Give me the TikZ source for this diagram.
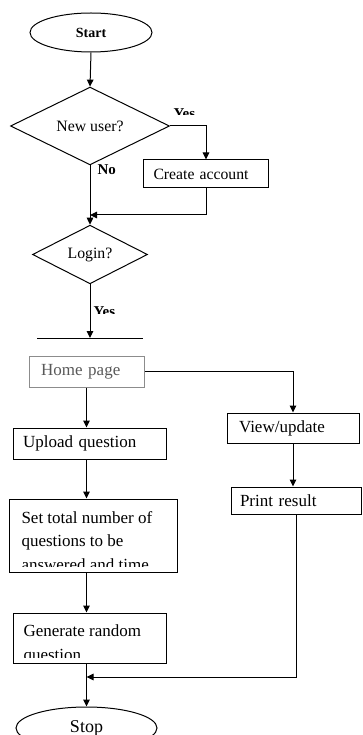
\documentclass[tikz,border=0pt]{standalone}
\usepackage{fontspec}
\setmainfont{Liberation Serif}
\usetikzlibrary{shapes.geometric,arrows.meta}
\definecolor{homeline}{gray}{0.55}
\definecolor{hometext}{gray}{0.35}
\begin{document}
\begin{tikzpicture}[x=1pt,y=-1pt,
  line width=1pt,
  >={Triangle[length=7pt,width=6.5pt]},
  term/.style={draw, ellipse, inner sep=0pt},
  dia/.style={draw, diamond, inner sep=0pt, font=\fontsize{15.8}{18}\selectfont},
  boxs/.style={draw, rectangle, inner ysep=0pt, align=left, font=\fontsize{15.7}{18}\selectfont},
  boxl/.style={draw, rectangle, inner ysep=0pt, align=left, font=\fontsize{17}{20}\selectfont},
  lbl/.style={inner sep=0pt, font=\fontsize{15}{17}\selectfont\bfseries},
  multi/.style={inner sep=0pt, align=left, anchor=north west, font=\fontsize{17}{23.7}\selectfont}
]
\useasboundingbox (0,0) rectangle (362,735);

% top part
\node[term, minimum width=122pt, minimum height=39pt, font=\fontsize{14}{16}\selectfont\bfseries] (start) at (91,32.5) {Start};
\node[dia, minimum width=159pt, minimum height=68pt] (newu) at (90,126) {New user?};
\node[boxs, minimum width=125pt, minimum height=28pt, inner xsep=10pt, text width=105pt] (create) at (206,174) {Create account};
\node[dia, minimum width=115pt, minimum height=45pt] (login) at (90,254.5) {Login?};
\coordinate (j1) at (90,215);
\coordinate (barL) at (37,338);
\coordinate (barR) at (143,338);
\coordinate (barM) at (90,338);

\draw[->] (start.south) -- (newu.north);
\draw[->] (newu.east) -| (create.north);
\draw[->] (newu.south) -- (login.north);
\draw[->] (create.south) |- (j1);
\draw[->] (login.south) -- (barM);
\draw (barL) -- (barR);

\begin{scope}
  \clip (150,95) rectangle (225,115);
  \node[lbl, anchor=base west] (yes1) at (173,119) {Yes};
\end{scope}
\node[lbl, anchor=base west] (no1) at (97,175) {No};
\begin{scope}
  \clip (92,295) rectangle (130,313);
  \node[lbl, anchor=base west] (yes2) at (93,316.5) {Yes};
\end{scope}

% lower part
\node[boxl, draw=homeline, text=hometext, minimum width=115pt, minimum height=31pt, inner xsep=12pt, text width=91pt] (home) at (86.5,371.5) {Home page};
\node[boxl, minimum width=153pt, minimum height=31pt, inner xsep=10pt, text width=133pt] (upload) at (89.5,443.5) {Upload question};
\node[boxl, minimum width=132pt, minimum height=30pt, inner xsep=12pt, text width=108pt] (view) at (293,428) {View/update};
\node[boxl, minimum width=130.5pt, minimum height=27pt, inner xsep=9pt, text width=112.5pt] (print) at (296.25,500.5) {Print result};
\node[draw, rectangle, minimum width=168pt, minimum height=73pt, inner sep=0pt] (set) at (93,535.5) {};
\node[draw, rectangle, minimum width=153pt, minimum height=50pt, inner sep=0pt] (gen) at (89.5,638) {};
\node[term, minimum width=141pt, minimum height=42pt, font=\fontsize{18}{20}\selectfont] (stop) at (86.5,728) {Stop};

\begin{scope}
  \clip ([xshift=1pt]set.north west) rectangle ([yshift=6pt,xshift=-1pt]set.south east);
  \node[multi] (settext) at (21,510.6) {Set total number of\\questions to be\\answered and time};
\end{scope}
\begin{scope}
  \clip ([xshift=1pt]gen.north west) rectangle ([yshift=6pt,xshift=-1pt]gen.south east);
  \node[multi, font=\fontsize{17}{24}\selectfont] (gentext) at (23,624.4) {Generate random\\question};
\end{scope}

\coordinate (j2) at (86.5,677);
\draw[->] (home.east) -| (view.north);
\draw[->] (home.south) -- (home.south |- upload.north);
\draw[->] (home.south |- upload.south) -- (home.south |- set.north);
\draw[->] (home.south |- set.south) -- (home.south |- gen.north);
\draw[->] (view.south) -- (view.south |- print.north);
\draw[->] (print.south) |- (j2);
\draw[->] (home.south |- gen.south) -- (stop.north);
\end{tikzpicture}
\end{document}
